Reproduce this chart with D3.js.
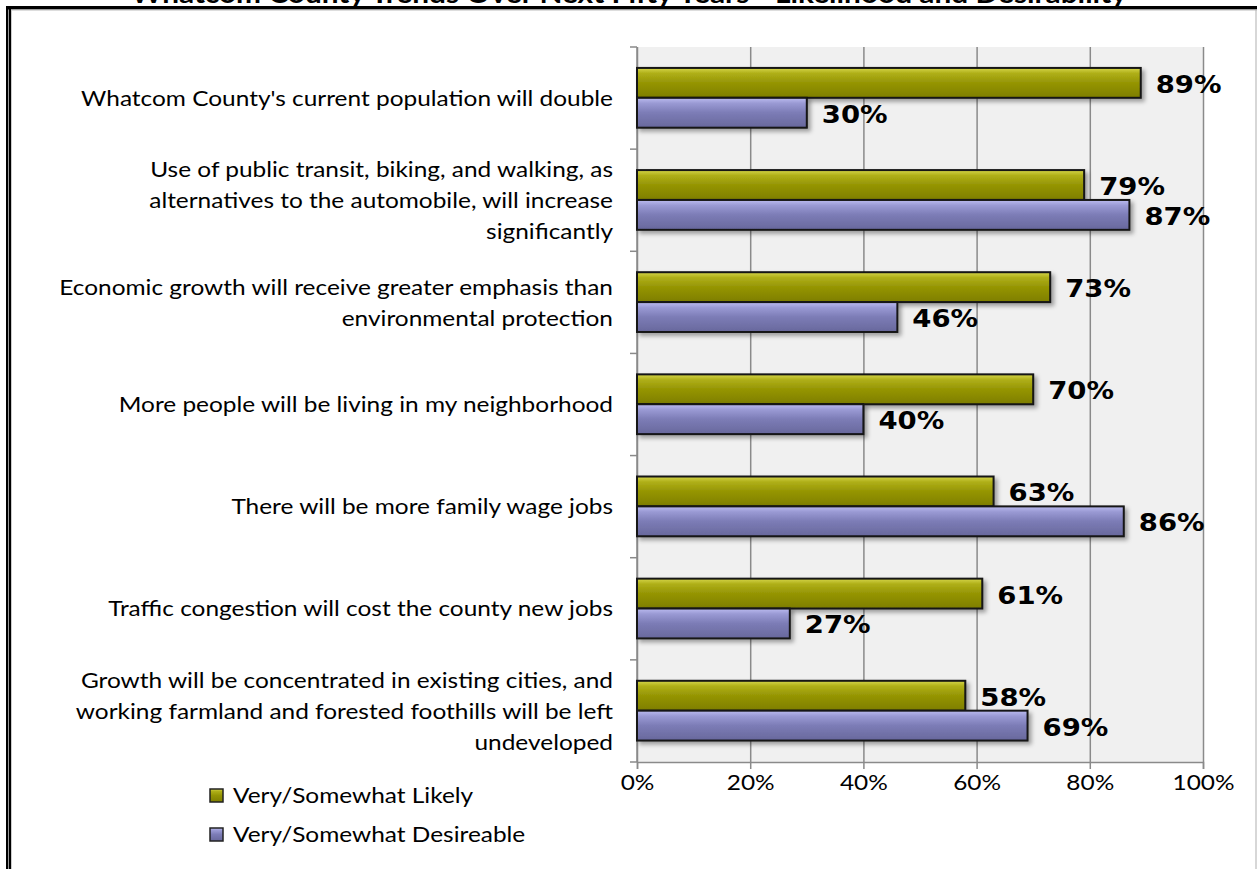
<!DOCTYPE html>
<html>
<head>
<meta charset="utf-8">
<script src="https://cdn.jsdelivr.net/npm/d3@7"></script>
<style>
  html, body { margin: 0; padding: 0; background: #fff; }
  svg { display: block; }
</style>
</head>
<body>
<svg id="chart" width="1257" height="869"></svg>
<script>
// Survey statements (top to bottom), each split into its display lines
const categories = [
  "Whatcom County's current population will double",
  "Use of public transit, biking, and walking, as alternatives to the automobile, will increase significantly",
  "Economic growth will receive greater emphasis than environmental protection",
  "More people will be living in my neighborhood",
  "There will be more family wage jobs",
  "Traffic congestion will cost the county new jobs",
  "Growth will be concentrated in existing cities, and working farmland and forested foothills will be left undeveloped"
];
const categoryLines = [
  ["Whatcom County's current population will double"],
  ["Use of public transit, biking, and walking, as", "alternatives to the automobile, will increase", "significantly"],
  ["Economic growth will receive greater emphasis than", "environmental protection"],
  ["More people will be living in my neighborhood"],
  ["There will be more family wage jobs"],
  ["Traffic congestion will cost the county new jobs"],
  ["Growth will be concentrated in existing cities, and", "working farmland and forested foothills will be left", "undeveloped"]
];
const seriesNames = ["Very/Somewhat Likely", "Very/Somewhat Desireable"];
const likely    = [89, 79, 73, 70, 63, 61, 58];
const desirable = [30, 87, 46, 40, 86, 27, 69];
const xTicks = [0, 20, 40, 60, 80, 100];
const title = "Whatcom County Trends Over Next Fifty Years - Likelihood and Desirability";

const svg = d3.select("#chart");
const W = 1257, H = 869;
const plot = { left: 637, right: 1203, top: 47, bottom: 762 };
const sansFont = "Lato, 'Open Sans', sans-serif";
const wide = 1.11; // horizontal stretch of the text faces

const rows = categories.map((c, i) => ({
  name: c, lines: categoryLines[i],
  values: [
    { key: seriesNames[0], value: likely[i] },
    { key: seriesNames[1], value: desirable[i] }
  ]
}));

const x = d3.scaleLinear().domain([0, 100]).range([plot.left, plot.right]);
const y = d3.scaleBand().domain(categories).range([plot.top, plot.bottom]);
const y1 = d3.scaleBand().domain(seriesNames)
  .range([y.bandwidth() * 0.205, y.bandwidth() * 0.79]);

// Gradients and shadow for the bevelled bars
const defs = svg.append("defs");
const palettes = {
  [seriesNames[0]]: ["#d6d64a", "#afaf18", "#959504", "#7e7e00"],
  [seriesNames[1]]: ["#bcbcf0", "#9a9ad4", "#7c7cb6", "#68689c"]
};
const gradId = d3.scaleOrdinal().domain(seriesNames).range(["gLikely", "gDesire"]);
seriesNames.forEach(k => {
  const g = defs.append("linearGradient").attr("id", gradId(k))
    .attr("x1", 0).attr("y1", 0).attr("x2", 0).attr("y2", 1);
  const c = palettes[k];
  [[0, c[0]], [0.18, c[1]], [0.5, c[2]], [1, c[3]]].forEach(([o, col]) =>
    g.append("stop").attr("offset", o).attr("stop-color", col));
});
const f = defs.append("filter").attr("id", "shadow")
  .attr("x", "-5%").attr("y", "-30%").attr("width", "115%").attr("height", "180%");
f.append("feDropShadow").attr("dx", 3).attr("dy", 3).attr("stdDeviation", 2)
  .attr("flood-color", "#000").attr("flood-opacity", 0.35);

// Outer frame
svg.append("rect").attr("x", 6).attr("y", 6).attr("width", W - 6).attr("height", 3.5).attr("fill", "#000");
svg.append("rect").attr("x", 6).attr("y", 9.5).attr("width", W - 6).attr("height", 1).attr("fill", "#bbb");
svg.append("rect").attr("x", 6).attr("y", 6).attr("width", 5).attr("height", H - 6).attr("fill", "#000");
svg.append("rect").attr("x", 8).attr("y", 9.5).attr("width", 1).attr("height", H - 9.5).attr("fill", "#999");
svg.append("rect").attr("x", 11).attr("y", 10).attr("width", 1).attr("height", H - 10).attr("fill", "#ccc");
svg.append("rect").attr("x", W - 1.5).attr("y", 10).attr("width", 1).attr("height", H - 10).attr("fill", "#b0b0b0");

// Title (sits above the frame line)
svg.append("text").attr("x", 629).attr("y", 3)
  .attr("text-anchor", "middle")
  .attr("textLength", 996).attr("lengthAdjust", "spacingAndGlyphs")
  .style("font-family", sansFont)
  .style("font-weight", "bold").style("font-size", "26px")
  .text(title);

// Plot background
svg.append("rect")
  .attr("x", plot.left).attr("y", plot.top)
  .attr("width", plot.right - plot.left).attr("height", plot.bottom - plot.top)
  .attr("fill", "#f0f0f0");

// Vertical gridlines
svg.append("g")
  .attr("transform", `translate(0,${plot.bottom})`)
  .call(d3.axisBottom(x).tickValues(xTicks).tickSize(-(plot.bottom - plot.top)).tickFormat(""))
  .call(g => g.select(".domain").remove())
  .call(g => g.selectAll("line").attr("stroke", "#8a8a8a").attr("stroke-width", 1.5));

// Category axis: line plus ticks at band boundaries
const boundaries = categories.map(c => y(c)).concat([plot.bottom]);
const yAxis = svg.append("g");
yAxis.append("line")
  .attr("x1", plot.left).attr("x2", plot.left)
  .attr("y1", plot.top).attr("y2", plot.bottom)
  .attr("stroke", "#8a8a8a").attr("stroke-width", 1.5);
yAxis.selectAll("line.tick").data(boundaries).join("line")
  .attr("class", "tick")
  .attr("x1", plot.left - 7).attr("x2", plot.left)
  .attr("y1", d => d).attr("y2", d => d)
  .attr("stroke", "#8a8a8a").attr("stroke-width", 1.5);

// Value axis
svg.append("g")
  .attr("transform", `translate(0,${plot.bottom})`)
  .call(d3.axisBottom(x).tickValues(xTicks).tickSize(7).tickPadding(5).tickFormat(d => d + "%"))
  .call(g => g.select(".domain").attr("stroke", "#8a8a8a").attr("stroke-width", 1.5))
  .call(g => g.selectAll("line").attr("stroke", "#8a8a8a").attr("stroke-width", 1.5))
  .call(g => g.selectAll("text")
    .attr("fill", "#000")
    .attr("transform", `scale(${wide},1)`)
    .style("font-family", sansFont)
    .style("font-size", "22px"));

// Category labels
const lineGap = 31;
svg.append("g").selectAll("text").data(rows).join("text")
  .attr("text-anchor", "end")
  .attr("transform", `translate(613,0) scale(${wide},1)`)
  .style("font-family", sansFont)
  .style("font-size", "22px")
  .attr("fill", "#000")
  .each(function (d) {
    const cy = y(d.name) + y.bandwidth() / 2;
    const n = d.lines.length;
    d3.select(this).selectAll("tspan").data(d.lines).join("tspan")
      .attr("x", 0)
      .attr("y", (l, i) => cy + (i - (n - 1) / 2) * lineGap)
      .attr("dy", "0.35em")
      .text(l => l);
  });

// Bars
const groups = svg.append("g").selectAll("g").data(rows).join("g")
  .attr("transform", d => `translate(0,${y(d.name)})`);

groups.selectAll("rect").data(d => d.values).join("rect")
  .attr("x", x(0))
  .attr("y", d => y1(d.key))
  .attr("width", d => x(d.value) - x(0))
  .attr("height", y1.bandwidth())
  .attr("fill", d => `url(#${gradId(d.key)})`)
  .attr("stroke", "#151515").attr("stroke-width", 2)
  .attr("filter", "url(#shadow)");

// Value labels
groups.selectAll("text").data(d => d.values).join("text")
  .attr("transform", d =>
    `translate(${x(d.value) + 15},${y1(d.key) + y1.bandwidth() / 2 + 1}) scale(1.1,1)`)
  .attr("dy", "0.36em")
  .style("font-family", "'DejaVu Sans', Verdana, sans-serif")
  .style("font-weight", "bold").style("font-size", "25px")
  .attr("fill", "#000")
  .text(d => d.value + "%");

// Legend
const legend = svg.append("g").selectAll("g").data(seriesNames).join("g")
  .attr("transform", (d, i) => `translate(210,${789 + i * 39})`);
legend.append("rect")
  .attr("width", 13).attr("height", 13)
  .attr("fill", d => `url(#${gradId(d)})`)
  .attr("stroke", "#222").attr("stroke-width", 1.5);
legend.append("text")
  .attr("transform", `translate(23,6.5) scale(${wide},1)`)
  .attr("dy", "0.35em")
  .style("font-family", sansFont)
  .style("font-size", "22px")
  .attr("fill", "#000")
  .text(d => d);
</script>
</body>
</html>
